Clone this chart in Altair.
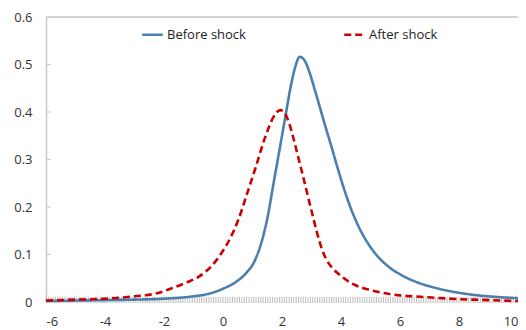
import altair as alt
import pandas as pd
import numpy as np

before_x = [-6, -5, -4, -3, -2, -1, -0.5, 0, 0.5, 0.8, 1.1, 1.3, 1.5, 1.7, 1.9, 2.1, 2.3, 2.45, 2.6,
            2.75, 2.95, 3.12, 3.46, 3.7, 3.9, 4.2, 4.5, 4.8, 5.15, 5.6, 6.16, 6.6, 7, 7.85, 8.5, 9.2, 10]
before_y = [0.002, 0.003, 0.004, 0.005, 0.007, 0.012, 0.017, 0.028, 0.045, 0.062, 0.09, 0.125, 0.175,
            0.245, 0.315, 0.385, 0.455, 0.495, 0.516, 0.51, 0.48, 0.445, 0.372, 0.322, 0.279, 0.22,
            0.172, 0.135, 0.103, 0.075, 0.053, 0.041, 0.033, 0.021, 0.015, 0.011, 0.008]

after_x = [-6, -5, -4, -3, -2.2, -1.74, -1.2, -0.83, -0.4, -0.05, 0.25, 0.52, 0.8, 1.09, 1.43, 1.7,
           1.94, 2.1, 2.25, 2.4, 2.55, 2.7, 3.0, 3.2, 3.35, 3.5, 3.7, 3.9, 4.4, 5.0, 6, 6.7, 8, 9, 10]
after_y = [0.003, 0.005, 0.007, 0.012, 0.019, 0.029, 0.042, 0.053, 0.075, 0.103, 0.135, 0.173, 0.225,
           0.28, 0.347, 0.388, 0.404, 0.397, 0.375, 0.342, 0.305, 0.268, 0.192, 0.143, 0.112, 0.09,
           0.072, 0.06, 0.038, 0.025, 0.014, 0.011, 0.006, 0.004, 0.002]

series = ["Before shock", "After shock"]
x_ticks = [-6, -4, -2, 0, 2, 4, 6, 8, 10]
y_ticks = [0, 0.1, 0.2, 0.3, 0.4, 0.5, 0.6]
band_x = list(np.round(np.arange(-6, 10.001, 0.08), 3))
band_top = 0.011

df = pd.concat([
    pd.DataFrame({"x": before_x, "y": before_y, "series": series[0]}),
    pd.DataFrame({"x": after_x, "y": after_y, "series": series[1]}),
])

font = "Open Sans"
xs = alt.Scale(domain=[-6, 10], nice=False, zero=False)
ys = alt.Scale(domain=[0, 0.6], nice=False)

band = alt.Chart(pd.DataFrame({"x": band_x, "y0": 0, "y1": band_top})).mark_rule(
    color="#bdbdbd", strokeWidth=1
).encode(
    x=alt.X("x:Q", scale=xs, axis=alt.Axis(values=x_ticks, title=None, domain=False, ticks=False,
                                            grid=False, labelFont=font, labelFontSize=13,
                                            labelColor="#333333", labelPadding=13,
                                            labelExpr="'' + datum.value")),
    y=alt.Y("y0:Q", scale=ys, axis=alt.Axis(values=y_ticks, title=None, grid=False, ticks=False,
                                             domainColor="#c8c8c8", domainWidth=1.5,
                                             labelFont=font, labelFontSize=13, labelColor="#333333",
                                             labelPadding=14,
                                             labelExpr="datum.value == 0 ? '0' : format(datum.value, '.1f')")),
    y2="y1:Q",
)

top_line = alt.Chart(pd.DataFrame({"y": [0.6]})).mark_rule(color="#c8c8c8", strokeWidth=1.5).encode(
    y=alt.Y("y:Q", scale=ys)
)

ytick_marks = alt.Chart(pd.DataFrame({"y": y_ticks[1:6]})).mark_rule(color="#c8c8c8", strokeWidth=1).encode(
    y=alt.Y("y:Q", scale=ys), x=alt.value(0), x2=alt.value(5)
)

lines = alt.Chart(df).mark_line(strokeWidth=2.6, interpolate="monotone").encode(
    x=alt.X("x:Q", scale=xs),
    y=alt.Y("y:Q", scale=ys),
    color=alt.Color("series:N", scale=alt.Scale(domain=series, range=["#4a7fb0", "#cc0000"]),
                    legend=alt.Legend(title=None, orient="none", legendX=95, legendY=6,
                                      direction="horizontal", symbolType="stroke", symbolSize=420,
                                      symbolStrokeWidth=2.5, labelFont=font, labelFontSize=13,
                                      labelColor="#222222", columnPadding=93, labelOffset=3)),
    strokeDash=alt.StrokeDash("series:N", scale=alt.Scale(domain=series, range=[[1, 0], [7, 4]]),
                              legend=None),
    detail="series:N",
)

chart = alt.layer(band, top_line, ytick_marks, lines).properties(
    width=472, height=285,
    autosize=alt.AutoSizeParams(type="none"),
    padding={"left": 38, "top": 9, "right": 0, "bottom": 26},
).configure_view(stroke=None).configure(background="white")

chart.save("out.html", embed_options={"renderer": "svg", "actions": False})
